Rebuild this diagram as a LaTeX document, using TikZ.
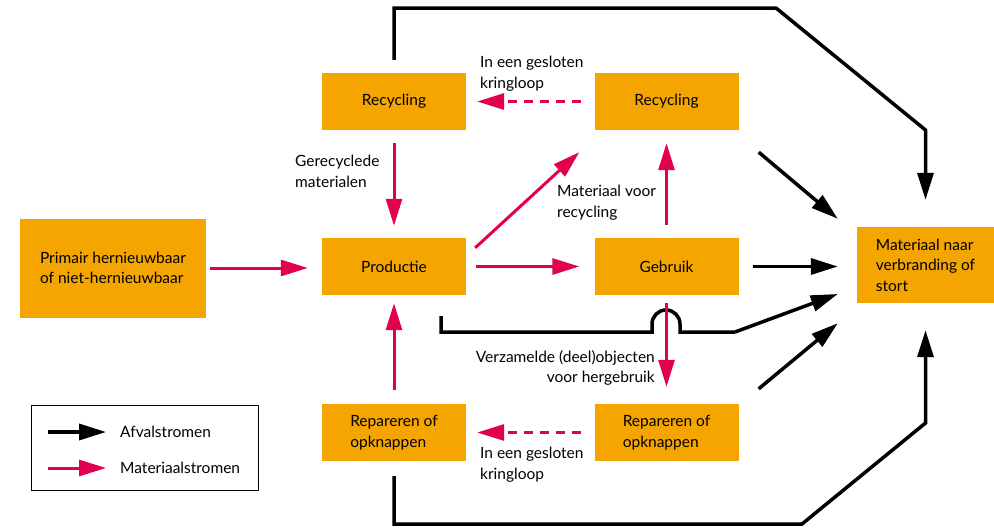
\documentclass[tikz,border=0pt]{standalone}
\usepackage{fontspec}
\setmainfont{Lato}
\usepackage{tikz}
\usetikzlibrary{calc, arrows.meta}

\definecolor{oranje}{RGB}{245,165,0}
\definecolor{rood}{RGB}{226,0,80}

\begin{document}
\begin{tikzpicture}[x=1pt, y=-1pt, >={Triangle[length=27pt, width=16pt]},
  every node/.style={font=\fontsize{15.5}{20.5}\selectfont},
  blok/.style={fill=oranje, minimum width=144pt, minimum height=57pt, inner sep=0pt, align=left},
  afval/.style={->, line width=3.5pt, black},
  mat/.style={->, line width=3pt, rood},
  matdash/.style={mat, dash pattern=on 9pt off 7pt},
  tekst/.style={inner sep=0pt, anchor=north west, align=left}]

\useasboundingbox (0,0) rectangle (994,528);

% blokken
\node[blok, minimum width=186pt, minimum height=99pt] (prim) at (113,268) {Primair hernieuwbaar\\of niet-hernieuwbaar};
\node[blok] (rec1) at (394,101.5) {Recycling};
\node[blok] (rec2) at (666.5,101.5) {Recycling};
\node[blok] (prod) at (394,266.5) {Productie};
\node[blok] (gebr) at (666.5,266.5) {Gebruik};
\node[blok] (rep1) at (394,432.5) {Repareren of\\opknappen};
\node[blok] (rep2) at (666.5,432.5) {Repareren of\\opknappen};
\node[blok, minimum width=137pt, minimum height=76pt] (eind) at (925.5,265) {Materiaal naar\\verbranding of\\stort};

% hulppunten
\coordinate (tl) at (394,8);
\coordinate (tr) at (776,8);
\coordinate (tk) at (925.5,130);
\coordinate (bl) at (394,524);
\coordinate (br) at (802,524);
\coordinate (bk) at (925.5,423);
\coordinate (hop) at (652,332);

% afvalstromen
\draw[afval, shorten >=27pt] ([yshift=13pt]rec1.north) -- (tl) -- (tr) -- (tk) -- (eind.north);
\draw[afval, shorten >=27pt] ([yshift=-15pt]rep1.south) -- (bl) -- (br) -- (bk) -- (eind.south);
\draw[afval] ($(rec2.south east)+(20,22)$) -- ($(eind.north west)+(-19,-8)$);
\draw[afval, shorten <=14pt, shorten >=19pt] (gebr.east) -- (gebr.east -| eind.west);
\draw[afval] ($(rep2.north east)+(20,-15)$) -- ($(eind.south west)+(-19,20)$);
\draw[afval, -, line join=miter] ($(prod.south)+(47,21)$) |- (hop) -- ++(0,-8) arc[start angle=180, end angle=360, radius=14] -- ++(0,8) -- (735,332);
\draw[afval] (735,332) -- ($(eind.west)+(-19,29)$);

% materiaalstromen
\draw[mat, shorten <=4pt, shorten >=14pt] (prim.east) -- (prod.west |- prim.east);
\draw[mat, shorten <=10pt, shorten >=15pt] (prod.east) -- (gebr.west);
\draw[mat] ($(prod.north east)+(9,10)$) -- ($(rec2.south west)+(-15,22)$);
\draw[mat, shorten <=13pt, shorten >=13pt] (gebr.north) -- (rec2.south);
\draw[mat, shorten <=13pt, shorten >=12pt] (rec1.south) -- (prod.north);
\draw[mat, shorten <=8pt, shorten >=17pt] (gebr.south) -- (rep2.north);
\draw[mat, shorten <=14pt, shorten >=8pt] (rep1.north) -- (prod.south);
\draw[matdash, shorten <=13pt, shorten >=11pt] (rec2.west) -- (rec1.east);
\draw[matdash, shorten <=13pt, shorten >=11pt] (rep2.west) -- (rep1.east);

% teksten
\node[tekst] (t1) at (480,56) {In een gesloten\\kringloop};
\node[tekst] (t2) at (480,447) {In een gesloten\\kringloop};
\node[tekst] (t3) at (295,155) {Gerecyclede\\materialen};
\node[tekst] (t4) at (557,185) {Materiaal voor\\recycling};
\node[tekst, anchor=north east, align=right] (t5) at (655,350) {Verzamelde (deel)objecten\\voor hergebruik};

% legenda
\node[draw, line width=1pt, minimum width=227pt, minimum height=85pt, inner sep=0pt] (leg) at (144.5,447.5) {};
\coordinate (la) at (48,432);
\coordinate (lb) at (48,468);
\draw[afval] (la) -- ++(58,0);
\draw[mat] (lb) -- ++(58,0);
\node[inner sep=0pt, anchor=west] (l1) at (120,432) {Afvalstromen};
\node[inner sep=0pt, anchor=west] (l2) at (120,468) {Materiaalstromen};

\end{tikzpicture}
\end{document}
